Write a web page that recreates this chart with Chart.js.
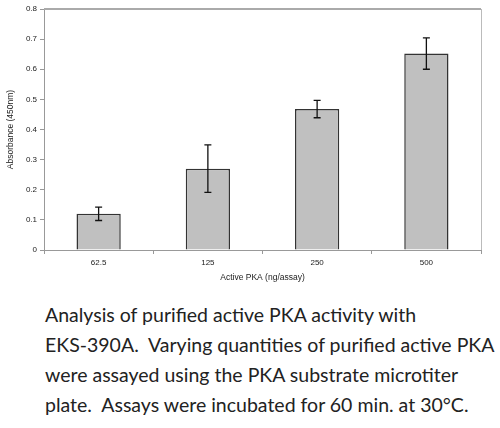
<!DOCTYPE html>
<html><head><meta charset="utf-8">
<script src="https://cdn.jsdelivr.net/npm/chart.js@4"></script>
<style>
html,body{margin:0;padding:0;background:#fff;width:500px;height:428px;overflow:hidden}
#wrap{position:absolute;left:0;top:0;width:500px;height:290px}
#cap{position:absolute;left:45px;top:300px;width:460px;font-family:Lato,"Open Sans",sans-serif;font-size:19.5px;line-height:30px;color:#222;white-space:nowrap}
</style></head><body>
<div id="wrap"><canvas id="c" width="500" height="290"></canvas></div>
<div id="cap">Analysis of purified active PKA activity with<br>EKS-390A.&nbsp; Varying quantities of purified active PKA<br>were assayed using the PKA substrate microtiter<br>plate.&nbsp; Assays were incubated for 60 min. at 30°C.</div>
<script>
const categories = ["62.5", "125", "250", "500"];
const absorbance = [0.12, 0.27, 0.468, 0.652];
const errors = [0.022, 0.079, 0.029, 0.052];
const yTicks = [0, 0.1, 0.2, 0.3, 0.4, 0.5, 0.6, 0.7, 0.8];

const errorBars = {
  id: 'errorBars',
  afterDatasetsDraw(chart) {
    const ctx = chart.ctx, y = chart.scales.y;
    const meta = chart.getDatasetMeta(0);
    ctx.save();
    ctx.strokeStyle = '#111'; ctx.lineWidth = 1.3;
    meta.data.forEach((bar, i) => {
      const x = bar.x;
      const hi = y.getPixelForValue(absorbance[i] + errors[i]);
      const lo = y.getPixelForValue(absorbance[i] - errors[i]);
      ctx.beginPath();
      ctx.moveTo(x, hi); ctx.lineTo(x, lo);
      ctx.moveTo(x - 3.5, hi); ctx.lineTo(x + 3.5, hi);
      ctx.moveTo(x - 3.5, lo); ctx.lineTo(x + 3.5, lo);
      ctx.stroke();
    });
    ctx.restore();
  }
};
const frame = {
  id: 'frame',
  beforeDatasetsDraw(chart) {
    const a = chart.chartArea, ctx = chart.ctx;
    ctx.save();
    ctx.strokeStyle = '#aaa'; ctx.lineWidth = 2;
    ctx.beginPath(); ctx.moveTo(a.left, a.top); ctx.lineTo(a.right, a.top); ctx.stroke();
    ctx.strokeStyle = '#bbb'; ctx.lineWidth = 1;
    ctx.beginPath(); ctx.moveTo(a.right + 0.5, a.top); ctx.lineTo(a.right + 0.5, a.bottom); ctx.stroke();
    ctx.restore();
  }
};

new Chart(document.getElementById('c'), {
  type: 'bar',
  data: {
    labels: categories,
    datasets: [{
      data: absorbance,
      backgroundColor: '#c0c0c0',
      borderColor: '#333',
      borderWidth: 1.5,
      categoryPercentage: 1,
      barPercentage: 0.405
    }]
  },
  plugins: [frame, errorBars],
  options: {
    responsive: false,
    animation: false,
    devicePixelRatio: 1,
    layout: { padding: { top: 9, right: 19, left: 0, bottom: 7 } },
    plugins: { legend: { display: false }, tooltip: { enabled: false } },
    scales: {
      x: {
        afterFit: s => { s.height = 33; },
        grid: { display: true, drawOnChartArea: false, drawTicks: true, tickLength: 4, offset: true, color: '#999' },
        border: { display: true, color: '#999', width: 1 },
        ticks: { color: '#222', font: { family: 'Liberation Sans', size: 8 }, padding: 4 },
        title: { display: true, text: 'Active PKA (ng/assay)', color: '#222', font: { family: 'Liberation Sans', size: 8.5 }, padding: { top: 1, bottom: 0 } }
      },
      y: {
        min: 0, max: 0.8,
        afterFit: s => { s.width = 44; },
        afterBuildTicks: s => { s.ticks = yTicks.map(v => ({ value: v })); },
        grid: { display: true, drawOnChartArea: false, drawTicks: true, tickLength: 4, color: '#999' },
        border: { display: true, color: '#999', width: 1 },
        ticks: { color: '#222', font: { family: 'Liberation Sans', size: 8 }, padding: 3, callback: v => String(v) },
        title: { display: true, text: 'Absorbance (450nm)', color: '#222', font: { family: 'Liberation Sans', size: 8.5 }, padding: { top: 6, bottom: 0 } }
      }
    }
  }
});
</script>
</body></html>
